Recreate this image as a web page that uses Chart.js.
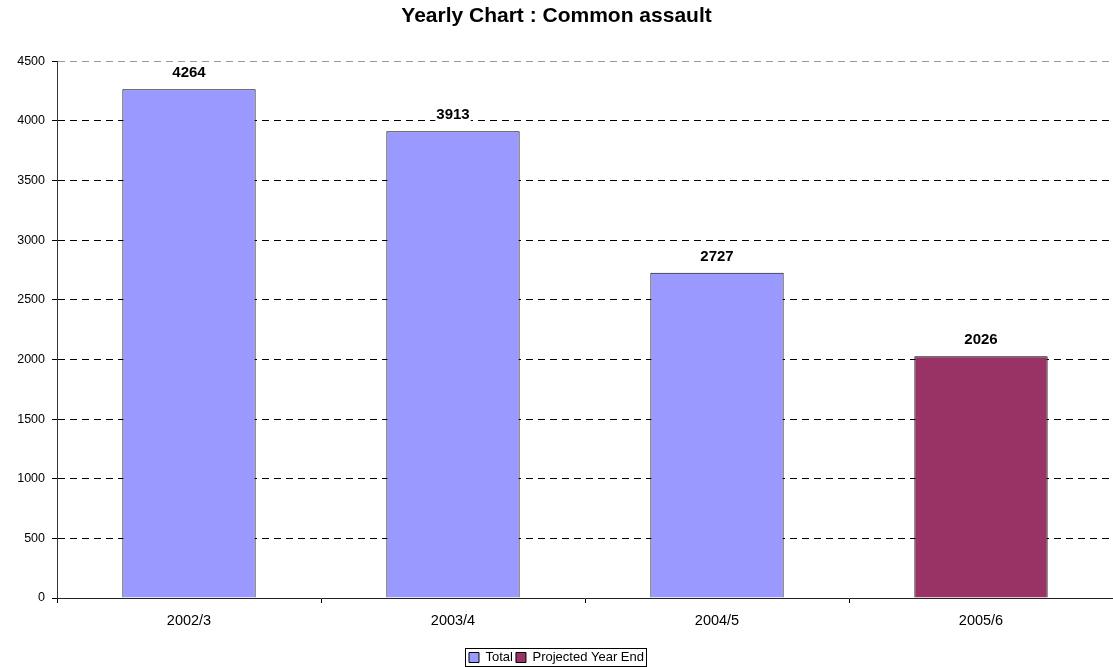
<!DOCTYPE html>
<html>
<head>
<meta charset="utf-8">
<script src="https://cdn.jsdelivr.net/npm/chart.js@4"></script>
<style>
  html, body { margin: 0; padding: 0; background: #fff; }
  #wrap { width: 1113px; height: 667px; }
</style>
</head>
<body>
<div id="wrap"><canvas id="chart" width="1113" height="667"></canvas></div>
<script>
// data
const years = ['2002/3', '2003/4', '2004/5', '2005/6'];
const totalValues = [4264, 3913, 2727, null];
const projectedValues = [null, null, null, 2026];

const FONT = 'Arial, "Liberation Sans", sans-serif';

// value labels above each bar, with a white patch behind them like the original
const valueLabels = {
    id: 'valueLabels',
    afterDatasetsDraw(chart) {
        const ctx = chart.ctx;
        ctx.save();
        ctx.font = 'bold 15px ' + FONT;
        ctx.textAlign = 'center';
        ctx.textBaseline = 'middle';
        chart.data.datasets.forEach((ds, i) => {
            chart.getDatasetMeta(i).data.forEach((bar, j) => {
                const v = ds.data[j];
                if (v == null) return;
                const txt = String(v);
                const w = ctx.measureText(txt).width;
                const y = bar.y - 16;
                ctx.fillStyle = '#fff';
                ctx.fillRect(bar.x - w / 2 - 1, y - 8, w + 2, 16);
                ctx.fillStyle = '#000';
                ctx.fillText(txt, bar.x, y);
            });
        });
        ctx.restore();
    }
};

// thin frame round the legend
const legendFrame = {
    id: 'legendFrame',
    afterDraw(chart) {
        const boxes = chart.legend.legendHitBoxes;
        if (!boxes || !boxes.length) return;
        let x1 = Infinity, y1 = Infinity, x2 = -Infinity, y2 = -Infinity;
        boxes.forEach(b => {
            x1 = Math.min(x1, b.left); y1 = Math.min(y1, b.top);
            x2 = Math.max(x2, b.left + b.width); y2 = Math.max(y2, b.top + b.height);
        });
        const ctx = chart.ctx;
        ctx.save();
        ctx.strokeStyle = '#000';
        ctx.lineWidth = 1;
        ctx.strokeRect(Math.round(x1 - 4) + 0.5, Math.round(y1 - 3) + 0.5, Math.round(x2 - x1 + 6), Math.round(y2 - y1 + 5));
        ctx.restore();
    }
};

new Chart(document.getElementById('chart'), {
    type: 'bar',
    data: {
        labels: years,
        datasets: [
            {
                label: 'Total',
                data: totalValues,
                backgroundColor: '#9999FF',
                borderColor: '#000',
                borderWidth: 1,
                grouped: false
            },
            {
                label: 'Projected Year End',
                data: projectedValues,
                backgroundColor: '#993366',
                borderColor: '#000',
                borderWidth: 1,
                grouped: false
            }
        ]
    },
    options: {
        responsive: false,
        animation: false,
        categoryPercentage: 1,
        barPercentage: 0.505,
        layout: { padding: { left: 0, right: 0, top: 0, bottom: -7 } },
        plugins: {
            title: {
                display: true,
                text: 'Yearly Chart : Common assault',
                color: '#000',
                font: { family: FONT, size: 21, weight: 'bold' },
                padding: { top: 4, bottom: 32 }
            },
            legend: {
                position: 'bottom',
                labels: {
                    color: '#000',
                    font: { family: FONT, size: 13 },
                    boxWidth: 10,
                    boxHeight: 10,
                    padding: 3
                }
            },
            tooltip: { enabled: false }
        },
        scales: {
            x: {
                afterFit(scale) { scale.height = 50; },
                grid: {
                    offset: true,
                    drawOnChartArea: false,
                    tickLength: 5,
                    tickColor: '#000'
                },
                border: { color: '#222', width: 1 },
                ticks: {
                    color: '#000',
                    font: { family: FONT, size: 14.5 },
                    padding: 9
                }
            },
            y: {
                min: 0,
                max: 4500,
                afterFit(scale) { scale.width = 57; },
                grid: {
                    color: ctx => (ctx.tick && ctx.tick.value === 4500) ? '#999' : '#000',
                    tickColor: '#000',
                    tickLength: 5,
                    tickBorderDash: []
                },
                border: { color: '#333', width: 1, dash: [7, 5] },
                ticks: {
                    stepSize: 500,
                    color: '#000',
                    font: { family: FONT, size: 12.5 },
                    padding: 7,
                    callback: v => String(v)
                }
            }
        }
    },
    plugins: [valueLabels, legendFrame]
});
</script>
</body>
</html>
